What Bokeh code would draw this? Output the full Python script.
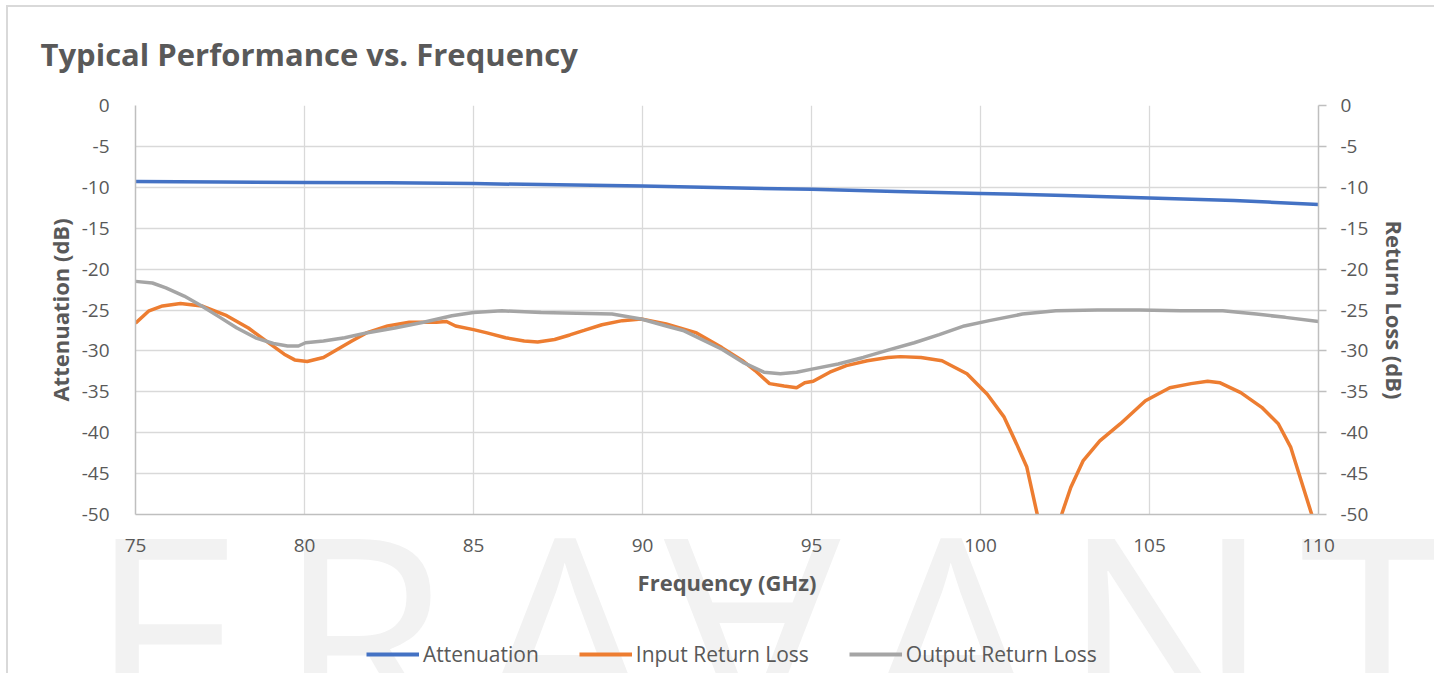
from urllib.parse import quote
from bokeh.plotting import figure
from bokeh.layouts import column
from bokeh.models import (Range1d, LinearAxis, FixedTicker, Legend, LegendItem, Title)
from bokeh.embed import file_html
from bokeh.resources import INLINE

# ---------------- data ----------------
att_freq = [75, 77.5, 80, 82.5, 85, 87.5, 90, 92.5, 95, 97.5, 100, 102.5, 105, 107.5, 108.5, 110]
att_db = [-9.3, -9.35, -9.4, -9.45, -9.55, -9.7, -9.85, -10.05, -10.25, -10.5, -10.75, -11.0, -11.3, -11.6, -11.8, -12.1]

in_freq = [75.0, 75.4, 75.8, 76.33, 76.96, 77.7, 78.34, 78.87, 79.4, 79.71, 80.08, 80.56, 80.98, 81.4,
           81.83, 82.46, 83.1, 83.9, 84.2, 84.47, 85.0, 85.4, 85.95, 86.5, 86.9, 87.4, 87.85, 88.27,
           88.8, 89.4, 89.96, 90.7, 91.2, 91.6, 92.35, 92.96, 93.33, 93.76, 94.19, 94.56, 94.8, 95.05,
           95.54, 96.03, 96.65, 97.26, 97.63, 98.24, 98.86, 99.6, 100.2, 100.7, 101.07, 101.37, 101.68,
           102.0, 102.4, 102.67, 103.04, 103.53, 104.14, 104.88, 105.6, 106.23, 106.72, 107.09, 107.7,
           108.32, 108.81, 109.18, 109.55, 109.8, 110.0]
in_db = [-26.6, -25.1, -24.5, -24.2, -24.5, -25.7, -27.2, -28.8, -30.4, -31.1, -31.3, -30.8, -29.8, -28.8,
         -27.8, -26.95, -26.5, -26.5, -26.4, -26.95, -27.4, -27.8, -28.4, -28.8, -28.9, -28.6, -28.05, -27.5,
         -26.8, -26.3, -26.1, -26.7, -27.3, -27.8, -29.6, -31.2, -32.4, -34.0, -34.3, -34.5, -33.9, -33.7,
         -32.6, -31.8, -31.2, -30.8, -30.7, -30.8, -31.2, -32.8, -35.3, -38.1, -41.4, -44.2, -50.0,
         -56.0, -50.0, -46.7, -43.4, -41.0, -38.9, -36.1, -34.5, -34.0, -33.7, -33.9, -35.1,
         -36.9, -38.9, -41.8, -46.7, -50.0, -53.0]

out_freq = [75.0, 75.5, 75.9, 76.44, 76.96, 77.5, 78.0, 78.55, 79.08, 79.5, 79.82, 80.03, 80.56, 81.19,
            81.83, 82.67, 83.52, 84.36, 85.0, 85.84, 87.0, 88.06, 89.1, 89.96, 90.7, 91.2, 92.35, 92.97,
            93.59, 94.08, 94.56, 95.05, 95.79, 96.53, 97.26, 98.04, 98.78, 99.52, 100.26, 101.24, 102.23,
            103.46, 104.7, 105.93, 107.17, 108.16, 109.02, 110.0]
out_db = [-21.5, -21.7, -22.3, -23.3, -24.5, -25.9, -27.2, -28.4, -29.1, -29.4, -29.4, -29.0, -28.8, -28.4,
          -27.8, -27.2, -26.5, -25.7, -25.3, -25.1, -25.3, -25.4, -25.5, -26.1, -26.95, -27.5, -29.8, -31.4,
          -32.6, -32.8, -32.6, -32.2, -31.6, -30.8, -29.9, -29.0, -28.0, -26.95, -26.3, -25.5, -25.1,
          -25.0, -25.0, -25.1, -25.1, -25.5, -25.9, -26.4]

x_ticks = [75, 80, 85, 90, 95, 100, 105, 110]
y_ticks = [0, -5, -10, -15, -20, -25, -30, -35, -40, -45, -50]
series_names = ["Attenuation", "Input Return Loss", "Output Return Loss"]
series_colors = ["#4472C4", "#ED7D31", "#A5A5A5"]

# ---------------- styles ----------------
TXT = "#595959"
GRID = "#D9D9D9"
AXIS = "#BFBFBF"
FONT = "Open Sans"
W, H = 1434, 673
H1 = 630                              # chart part; the legend strip takes the rest
FL, FT, FR = 135, 104, 116
FB = H1 - 514

# faint background logo (decorative graphic drawn behind the transparent canvases)
WM_LETTERS = ["E", "R", "A", "A", "A", "N", "T"]
WM_CENTERS = [166, 363, 565, 752, 951, 1166, 1377]
WM_FLIP = [False, False, False, True, False, False, False]
WM_SIZE, WM_BASE, WM_MID = 280, 739, 639
parts = []
for ch, cx, flip in zip(WM_LETTERS, WM_CENTERS, WM_FLIP):
    tr = f" transform='rotate(180 {cx} {WM_MID})'" if flip else ""
    parts.append(f"<text x='{cx}' y='{WM_BASE}' text-anchor='middle'{tr}>{ch}</text>")
svg = (f"<svg xmlns='http://www.w3.org/2000/svg' width='{W}' height='{H}'>"
       f"<g font-family='Open Sans' font-size='{WM_SIZE}' fill='#F2F2F2'>" + "".join(parts) + "</g></svg>")
wm_url = "data:image/svg+xml," + quote(svg)

# ---------------- main chart ----------------
p = figure(width=W, height=H1, output_backend="svg", toolbar_location=None,
           x_range=Range1d(75, 110), y_range=Range1d(-50, 0),
           min_border_left=FL, min_border_right=FR, min_border_top=FT, min_border_bottom=FB)
p.border_fill_alpha = 0
p.outline_line_color = None
p.background_fill_color = "white"

p.title = Title(text="Typical Performance vs. Frequency", align="left", offset=-95, standoff=61,
                text_font=FONT, text_font_style="bold", text_font_size="31px", text_color=TXT)

p.xaxis.ticker = FixedTicker(ticks=x_ticks)
p.yaxis.ticker = FixedTicker(ticks=y_ticks)
y_labels = {t: str(t) for t in y_ticks}
for ax in [p.xaxis[0], p.yaxis[0]]:
    ax.major_tick_line_color = None
    ax.minor_tick_line_color = None
    ax.major_label_text_color = TXT
    ax.major_label_text_font = FONT
    ax.major_label_text_font_size = "19px"
    ax.axis_label_text_color = TXT
    ax.axis_label_text_font = FONT
    ax.axis_label_text_font_style = "bold"
    ax.axis_label_text_font_size = "22px"
    ax.axis_line_color = AXIS
    ax.axis_line_width = 1.5
p.xaxis.axis_label = "Frequency (GHz)"
p.xaxis.major_label_standoff = 18
p.xaxis.axis_label_standoff = 12
p.yaxis.axis_label = "Attenuation (dB)"
p.yaxis.major_label_standoff = 20
p.yaxis.axis_label_standoff = 4
p.yaxis.major_label_overrides = y_labels

right = LinearAxis(ticker=FixedTicker(ticks=y_ticks), axis_label="Return Loss (dB)")
right.major_label_overrides = y_labels
right.major_tick_out = 8
right.major_tick_in = 0
right.major_tick_line_color = AXIS
right.major_tick_line_width = 1.5
right.minor_tick_line_color = None
right.axis_line_color = AXIS
right.axis_line_width = 1.5
right.major_label_text_color = TXT
right.major_label_text_font = FONT
right.major_label_text_font_size = "19px"
right.major_label_standoff = 14
right.axis_label_text_color = TXT
right.axis_label_text_font = FONT
right.axis_label_text_font_style = "bold"
right.axis_label_text_font_size = "22px"
right.axis_label_standoff = 9
p.add_layout(right, "right")

p.xgrid.ticker = FixedTicker(ticks=x_ticks)
p.ygrid.ticker = FixedTicker(ticks=y_ticks)
p.grid.grid_line_color = GRID
p.grid.grid_line_width = 1.3

series = [(att_freq, att_db), (in_freq, in_db), (out_freq, out_db)]
for (xs, ys), c in zip(series, series_colors):
    p.line(xs, ys, line_color=c, line_width=3.5)

# ---------------- legend strip ----------------
# same series drawn again in a strip whose ranges keep them out of view; only its legend shows
q = figure(width=W, height=H - H1, output_backend="svg", toolbar_location=None,
           x_range=Range1d(75, 110), y_range=Range1d(100, 101),
           x_axis_type=None, y_axis_type=None, min_border=0)
q.grid.visible = False
q.outline_line_color = None
q.background_fill_alpha = 0
q.border_fill_alpha = 0
q_renderers = [q.line(xs, ys, line_color=c, line_width=4) for (xs, ys), c in zip(series, series_colors)]

legend = Legend(items=[LegendItem(label=n, renderers=[r]) for n, r in zip(series_names, q_renderers)],
                orientation="horizontal", location=(366 - FL, 5),
                glyph_width=53, glyph_height=24, label_height=24,
                label_standoff=4, spacing=40, padding=0, margin=0,
                label_text_font=FONT, label_text_font_size="21px", label_text_color=TXT,
                border_line_color=None, background_fill_alpha=0)
q.add_layout(legend, "center")

layout = column(p, q, spacing=0)
layout.styles = {"background": f"url(\"{wm_url}\") 0 0 / {W}px {H}px no-repeat, "
                               "linear-gradient(#D9D9D9,#D9D9D9) 6px 5px / 2px 100% no-repeat, "
                               "linear-gradient(#D9D9D9,#D9D9D9) 6px 5px / 100% 2px no-repeat, white"}

open("out.html", "w").write(file_html(layout, INLINE))
